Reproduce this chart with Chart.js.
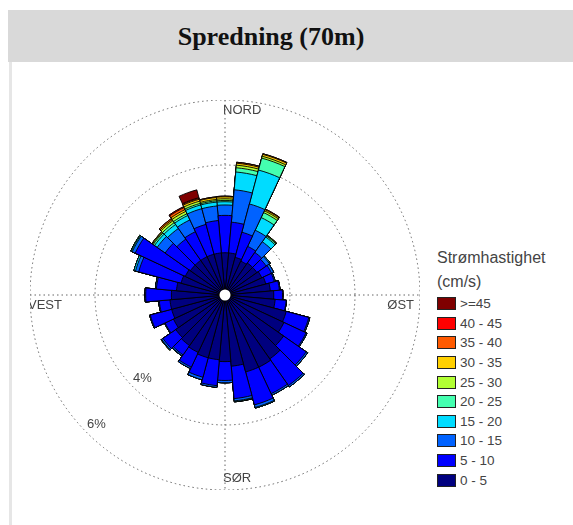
<!DOCTYPE html>
<html>
<head>
<meta charset="utf-8">
<script src="https://cdn.jsdelivr.net/npm/chart.js@4/dist/chart.umd.min.js"></script>
<style>
  body { margin: 0; background: #fff; width: 573px; height: 525px; overflow: hidden; position: relative; font-family: "Liberation Sans", Arial, sans-serif; }
  .title-bar { position: absolute; left: 8px; top: 10px; width: 565px; height: 52px; background: #d9d9d9; }
  .title-bar h1 { margin: 0; position: absolute; left: 0; width: 526px; top: 12px; text-align: center; font: bold 26px "Liberation Serif", "Times New Roman", serif; color: #111; }
  .frame { position: absolute; left: 9px; top: 62px; width: 3px; height: 463px; background: #e6e6e6; }
  .chart-box { position: absolute; left: 30px; top: 100px; width: 390px; height: 390px; }
  .legend { position: absolute; left: 437px; top: 246px; color: #444; }
  .legend .head { font-size: 16px; line-height: 24px; }
  .legend .row { height: 19.6px; display: flex; align-items: center; font-size: 13.5px; }
  .legend .box { width: 17px; height: 11px; border: 1px solid #222; margin-right: 4px; }
</style>
</head>
<body>
<div class="title-bar"><h1>Spredning (70m)</h1></div>
<div class="frame"></div>
<div class="chart-box"><canvas id="rose"></canvas></div>
<div class="legend" id="legend"></div>
<script>
// retning (grader fra nord)
const directions = ['0', '10', '20', '30', '40', '50', '60', '70', '80', '90', '100', '110',
  '120', '130', '140', '150', '160', '170', '180', '190', '200', '210', '220', '230',
  '240', '250', '260', '270', '280', '290', '300', '310', '320', '330', '340', '350'];

const speedClasses = ['0 - 5', '5 - 10', '10 - 15', '15 - 20', '20 - 25', '25 - 30', '30 - 35', '35 - 40', '40 - 45', '>=45'];
const colors = ['#00007f', '#0000ff', '#0062ff', '#00dcff', '#44ffb0', '#b2ff33', '#ffd000', '#ff5a00', '#ff0000', '#7f0000'];

const ringTicks = [2, 4, 6];
const compassLabels = ['NORD', 'ØST', 'SØR', 'VEST'];

// prosent per retning og hastighetsklasse
const s0_5 = [1.30, 1.30, 1.20, 1.15, 1.20, 1.20, 1.25, 1.30, 1.40, 1.50, 1.55, 1.95,
  2.00, 2.20, 2.40, 2.45, 2.45, 2.20, 2.05, 2.00, 2.00, 1.95, 1.90, 1.85,
  1.75, 1.70, 1.70, 1.65, 1.50, 1.40, 1.35, 1.30, 1.30, 1.30, 1.30, 1.30];
const s5_10 = [1.15, 0.95, 0.80, 0.50, 0.40, 0.35, 0.33, 0.27, 0.28, 0.27, 0.34, 0.72,
  0.75, 0.85, 1.00, 0.90, 1.05, 1.00, 0.58, 0.80, 0.62, 0.50, 0.35, 0.48,
  0.28, 0.68, 0.33, 0.79, 0.62, 1.35, 1.70, 0.95, 0.80, 0.85, 0.95, 1.00];
const s10_15 = [0.32, 1.00, 0.90, 0.55, 0.40, 0.12, 0.07, 0.03, 0.02, 0.01, 0.01, 0.03,
  0.03, 0.05, 0.05, 0.05, 0.08, 0.07, 0.07, 0.05, 0.08, 0.05, 0.04, 0.05,
  0.02, 0.02, 0.02, 0.02, 0.03, 0.10, 0.10, 0.30, 0.40, 0.40, 0.50, 0.45];
const s15_20 = [0.10, 0.55, 1.08, 0.43, 0.18, 0.03, 0, 0, 0, 0, 0, 0,
  0, 0, 0, 0, 0.02, 0.02, 0, 0, 0, 0, 0.01, 0,
  0, 0, 0, 0, 0, 0.05, 0.03, 0.10, 0.15, 0.15, 0.12, 0.12];
const s20_25 = [0.04, 0.13, 0.38, 0.17, 0.04, 0, 0, 0, 0, 0, 0, 0,
  0, 0, 0, 0, 0, 0.01, 0, 0, 0, 0, 0, 0.02,
  0, 0, 0, 0, 0, 0, 0.02, 0.05, 0.07, 0.06, 0.05, 0.04];
const s25_30 = [0.05, 0.08, 0.06, 0.06, 0.02, 0, 0, 0, 0, 0, 0, 0,
  0, 0, 0, 0, 0, 0, 0, 0, 0, 0, 0, 0,
  0, 0, 0, 0, 0, 0, 0, 0.03, 0.07, 0.08, 0.07, 0.04];
const s30_35 = [0.06, 0.06, 0.06, 0.04, 0.01, 0, 0, 0, 0, 0, 0, 0,
  0, 0, 0, 0, 0, 0, 0, 0, 0, 0, 0, 0,
  0, 0, 0, 0, 0, 0, 0, 0.02, 0.04, 0.06, 0.06, 0.06];
const s35_40 = [0.02, 0.03, 0.02, 0.02, 0, 0, 0, 0, 0, 0, 0, 0,
  0, 0, 0, 0, 0, 0, 0, 0, 0, 0, 0, 0,
  0, 0, 0, 0, 0, 0, 0, 0, 0.04, 0.07, 0.03, 0.02];
const s40_45 = [0, 0, 0, 0, 0, 0, 0, 0, 0, 0, 0, 0,
  0, 0, 0, 0, 0, 0, 0, 0, 0, 0, 0, 0,
  0, 0, 0, 0, 0, 0, 0, 0, 0, 0.03, 0.02, 0];
const s45up = [0, 0, 0, 0, 0, 0, 0, 0, 0, 0, 0, 0,
  0, 0, 0, 0, 0, 0, 0, 0, 0, 0, 0, 0,
  0, 0, 0, 0, 0, 0, 0, 0, 0, 0, 0.25, 0];

const series = [s0_5, s5_10, s10_15, s15_20, s20_25, s25_30, s30_35, s35_40, s40_45, s45up];

// stablede sektorer: hver klasse tegnes som kumulativ sum, innerste klasse over
let running = directions.map(() => 0);
const datasets = series.map((vals, k) => {
  running = running.map((v, i) => v + vals[i]);
  return {
    label: speedClasses[k],
    data: running.slice(),
    backgroundColor: colors[k],
    borderColor: '#000',
    borderWidth: 0.9
  };
});

const compassPlugin = {
  id: 'compass',
  beforeDatasetsDraw(chart) {
    const r = chart.scales.r;
    const ctx = chart.ctx;
    const xc = r.xCenter, yc = r.yCenter;
    const R = r.getDistanceFromCenterForValue(r.max);
    ctx.save();
    ctx.strokeStyle = '#666';
    ctx.lineWidth = 1;
    ctx.setLineDash([1.5, 3]);
    ctx.beginPath();
    ctx.moveTo(xc - R, yc); ctx.lineTo(xc + R, yc);
    ctx.moveTo(xc, yc - R); ctx.lineTo(xc, yc + R);
    ctx.stroke();
    ctx.setLineDash([]);

    ctx.fillStyle = '#444';
    ctx.font = '13px "Liberation Sans", Arial, sans-serif';
    ctx.textAlign = 'left';
    ctx.textBaseline = 'bottom';
    for (const v of ringTicks) {
      const d = r.getDistanceFromCenterForValue(v) * Math.SQRT1_2;
      ctx.fillText(v + '%', xc - d, yc + d - 2);
    }

    ctx.font = '13px "Liberation Sans", Arial, sans-serif';
    ctx.textBaseline = 'top';
    ctx.fillText(compassLabels[0], xc - 2, yc - R + 4);
    ctx.fillText(compassLabels[3], xc - R - 2, yc + 4);
    ctx.textBaseline = 'bottom';
    ctx.fillText(compassLabels[2], xc - 2, yc + R - 5);
    ctx.textAlign = 'right';
    ctx.textBaseline = 'top';
    ctx.fillText(compassLabels[1], xc + R - 6, yc + 4);
    ctx.restore();
  },
  afterDatasetsDraw(chart) {
    const r = chart.scales.r;
    const ctx = chart.ctx;
    ctx.save();
    ctx.beginPath();
    ctx.arc(r.xCenter, r.yCenter, 5.5, 0, Math.PI * 2);
    ctx.fillStyle = '#fff';
    ctx.fill();
    ctx.restore();
  }
};

new Chart(document.getElementById('rose'), {
  type: 'polarArea',
  data: { labels: directions, datasets: datasets },
  options: {
    responsive: true,
    maintainAspectRatio: false,
    animation: false,
    layout: { padding: 0 },
    plugins: { legend: { display: false }, tooltip: { enabled: false } },
    scales: {
      r: {
        min: 0,
        max: 6,
        startAngle: -5,
        ticks: { display: false, stepSize: 2 },
        grid: { color: '#666', lineWidth: 1 },
        border: { dash: [1.5, 3] },
        angleLines: { display: false },
        pointLabels: { display: false }
      }
    }
  },
  plugins: [compassPlugin]
});

// forklaring
const legend = document.getElementById('legend');
legend.innerHTML = '<div class="head">Strømhastighet<br>(cm/s)</div>';
for (let k = speedClasses.length - 1; k >= 0; k--) {
  const row = document.createElement('div');
  row.className = 'row';
  row.innerHTML = '<span class="box" style="background:' + colors[k] + '"></span>' + speedClasses[k];
  legend.appendChild(row);
}
</script>
</body>
</html>
